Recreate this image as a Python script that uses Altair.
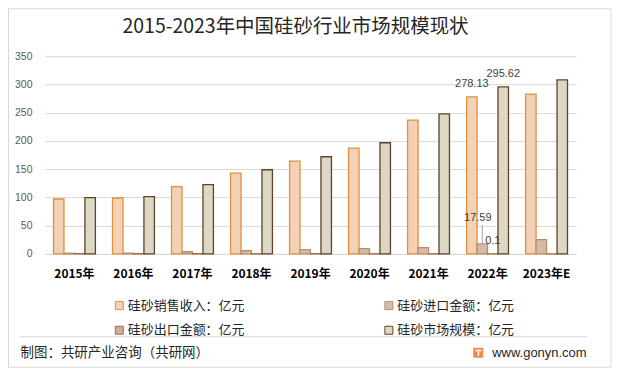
import altair as alt
import pandas as pd

years = ["2015年", "2016年", "2017年", "2018年", "2019年", "2020年", "2021年", "2022年", "2023年E"]
series = ["硅砂销售收入：亿元", "硅砂进口金额：亿元", "硅砂出口金额：亿元", "硅砂市场规模：亿元"]
sales = [97.2, 99.0, 119.0, 143.0, 164.4, 187.4, 236.9, 278.13, 282.9]
imports = [1.2, 1.3, 3.8, 5.8, 7.7, 9.4, 11.2, 17.59, 25.3]
exports = [0.5, 0.4, 0.4, 0.3, 0.3, 0.2, 0.2, 0.1, 0.2]
market = [99.6, 101.4, 122.6, 149.0, 172.0, 196.8, 248.0, 295.62, 308.0]
y_ticks = [0, 50, 100, 150, 200, 250, 300, 350]

fills = ["#F2D1B6", "#D7BAA5", "#CFAE9C", "#DDD8C6"]
strokes = ["#E0913E", "#B98E6A", "#A8693C", "#5E4327"]

title_text = "2015-2023年中国硅砂行业市场规模现状"
footer_left = "制图：共研产业咨询（共研网）"
footer_right = "www.gonyn.com"

rows = []
for s, vals in zip(series, [sales, imports, exports, market]):
    for y, v in zip(years, vals):
        rows.append({"year": y, "series": s, "value": v})
df = pd.DataFrame(rows)

lab_main = pd.DataFrame({
    "year": ["2022年", "2022年", "2022年"],
    "series": [series[0], series[2], series[3]],
    "value": [sales[7], exports[7], market[7]],
    "label": ["278.13", "0.1", "295.62"],
})
lab_imp = pd.DataFrame({
    "year": ["2022年"], "series": [series[1]], "value": [imports[7]], "label": ["17.59"],
})

xs = alt.X("year:N", sort=years, scale=alt.Scale(domain=years, paddingInner=0.29, paddingOuter=0.145),
           axis=alt.Axis(title=None, labelAngle=0, labelFontWeight="bold", labelFontSize=12,
                         labelColor="#000000", labelFont="Noto Sans CJK SC", ticks=False, tickSize=0,
                         labelPadding=15, domainColor="#D9D9D9", grid=False))
xo = alt.XOffset("series:N", scale=alt.Scale(domain=series, paddingInner=0, paddingOuter=0))
ys = alt.Y("value:Q", scale=alt.Scale(domain=[0, 350], nice=False),
           axis=alt.Axis(title=None, values=y_ticks, domain=False, ticks=False, tickSize=0,
                         labelPadding=13, labelFontSize=10.5, labelColor="#595959", labelOverlap=False,
                         labelFont="Liberation Sans", gridColor="#D9D9D9"))

leg = alt.Legend(title=None, orient="none", legendX=68, legendY=243, columns=2, direction="horizontal",
                 symbolType="square", symbolSize=64, symbolStrokeWidth=1, labelFontSize=13,
                 labelFont="Noto Sans CJK SC", labelColor="#262626", labelOffset=2,
                 columnPadding=137, rowPadding=11, padding=0, labelLimit=300)

bars = alt.Chart(df).mark_bar(strokeWidth=1.3).encode(
    x=xs, xOffset=xo, y=ys,
    fill=alt.Fill("series:N", scale=alt.Scale(domain=series, range=fills), legend=leg),
    stroke=alt.Stroke("series:N", scale=alt.Scale(domain=series, range=strokes), legend=leg),
)

labels = alt.Chart(lab_main).mark_text(baseline="bottom", dy=-8, fontSize=11, color="#404040",
                                       font="Liberation Sans").encode(
    x=xs, xOffset=xo, y=ys, text="label:N")
lab17 = alt.Chart(lab_imp).mark_text(baseline="bottom", dy=-21, dx=-4.5, fontSize=11, color="#404040",
                                     font="Liberation Sans").encode(
    x=xs, xOffset=xo, y=ys, text="label:N")
leader = alt.Chart(lab_imp).mark_rule(color="#A6A6A6", strokeWidth=1, xOffset=-1).encode(
    x=xs, xOffset=xo, y=ys, y2=alt.value(169))

one = pd.DataFrame({"t": [title_text], "fl": [footer_left], "fr": [footer_right]})
border = alt.Chart(one).mark_rect(fill=None, stroke="#D9D9D9", strokeWidth=1).encode(
    x=alt.value(-36.5), x2=alt.value(567), y=alt.value(-47.5), y2=alt.value(311.5))
title = alt.Chart(one).mark_text(fontSize=19.5, font="Noto Sans CJK SC", color="#262626",
                                 align="center", baseline="middle").encode(
    x=alt.value(251), y=alt.value(-29), text="t:N")
sep = alt.Chart(one).mark_rule(color="#D9D9D9", strokeWidth=1).encode(
    x=alt.value(-26), x2=alt.value(543), y=alt.value(281))
fl = alt.Chart(one).mark_text(fontSize=13.5, font="Noto Sans CJK SC", color="#262626",
                              align="left", baseline="middle").encode(
    x=alt.value(-24.5), y=alt.value(297), text="fl:N")
fr = alt.Chart(one).mark_text(fontSize=13, font="Liberation Sans", color="#262626",
                              align="left", baseline="middle").encode(
    x=alt.value(448), y=alt.value(297), text="fr:N")
logo = alt.Chart(one).mark_rect(fill="#F4884E").encode(
    x=alt.value(429), x2=alt.value(439), y=alt.value(292), y2=alt.value(302))
logo_in = alt.Chart(one).mark_rect(fill="#FFFFFF").encode(
    x=alt.value(431), x2=alt.value(437), y=alt.value(294), y2=alt.value(295.5))
logo_in2 = alt.Chart(one).mark_rect(fill="#FFFFFF").encode(
    x=alt.value(433.5), x2=alt.value(435), y=alt.value(295.5), y2=alt.value(300))

chart = alt.layer(border, bars, labels, lab17, leader, title, sep, fl, fr, logo, logo_in, logo_in2).properties(
    width=532, height=198,
    padding={"left": 37, "top": 48, "right": 36, "bottom": 114},
    autosize=alt.AutoSizeParams(type="none"),
    background="white",
).configure_view(stroke=None)

chart.save("out.html", embed_options={"renderer": "svg", "actions": False})
